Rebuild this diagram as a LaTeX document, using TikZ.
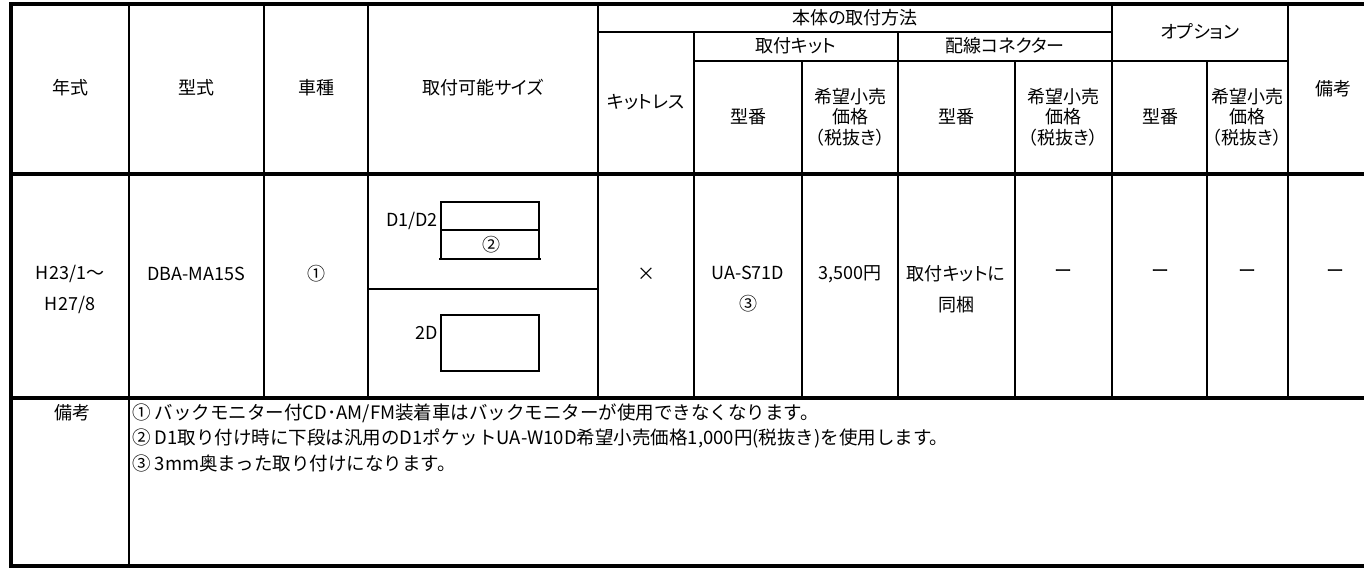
\documentclass[tikz,border=0pt]{standalone}
\usepackage{fontspec}
\setmainfont{Noto Sans CJK JP}
\newfontfamily\cellfont{Noto Sans CJK JP}[RawFeature={+palt}]
\tikzset{
	thinrule/.style={line width=1.6pt},
	thickrule/.style={line width=3.6pt},
	cell/.style={inner sep=0pt, align=center, font=\cellfont\fontsize{18}{20.5}\selectfont},
	tallcell/.style={cell, font=\cellfont\fontsize{18}{31}\selectfont},
	note/.style={inner sep=0pt, anchor=west, font=\fontsize{18.5}{21}\selectfont}
}

\begin{document}
\begin{tikzpicture}[x=1pt, y=-1pt]
			%%%%% START %%%%%
			
			\useasboundingbox (0, 0) rectangle (1364, 568);
			\clip (0, 0) rectangle (1364, 568);
			\fill[white] (0, 0) rectangle (1364, 568);
			
			\draw[thinrule] (129, 4) -- (129, 566);
			\draw[thinrule] (264, 4) -- (264, 398);
			\draw[thinrule] (368, 4) -- (368, 398);
			\draw[thinrule] (598, 4) -- (598, 398);
			\draw[thinrule] (694, 32) -- (694, 398);
			\draw[thinrule] (802, 61) -- (802, 398);
			\draw[thinrule] (898, 32) -- (898, 398);
			\draw[thinrule] (1015, 61) -- (1015, 398);
			\draw[thinrule] (1112, 4) -- (1112, 398);
			\draw[thinrule] (1207, 61) -- (1207, 398);
			\draw[thinrule] (1288, 4) -- (1288, 398);
			
			\draw[thinrule] (598, 32) -- (1112, 32);
			\draw[thinrule] (694, 61) -- (1288, 61);
			\draw[thinrule] (368, 289) -- (598, 289);
			
			\draw[thickrule] (11, 4) -- (1370, 4);
			\draw[thickrule] (11, 174) -- (1370, 174);
			\draw[thickrule] (11, 398) -- (1370, 398);
			\draw[thickrule] (11, 566) -- (1370, 566);
			\draw[thickrule] (11, 2) -- (11, 568);
			
			\node[cell] (year) at (70, 88) {年式};
			\node[cell] (model) at (196, 88) {型式};
			\node[cell] (car) at (316, 88) {車種};
			\node[cell] (size) at (483, 88) {取付可能サイズ};
			\node[cell] (kitless) at (646, 102) {キットレス};
			\node[cell] (body) at (855, 18) {本体の取付方法};
			\node[cell] (kit) at (796, 46) {取付キット};
			\node[cell] (wire) at (1005, 46) {配線コネクター};
			\node[cell] (option) at (1200, 32) {オプション};
			\node[cell] (kitno) at (748, 117) {型番};
			\node[cell] (kitprice) at (850, 117) {希望小売\\価格\\（税抜き）};
			\node[cell] (wireno) at (956, 117) {型番};
			\node[cell] (wireprice) at (1063, 117) {希望小売\\価格\\（税抜き）};
			\node[cell] (optno) at (1160, 117) {型番};
			\node[cell] (optprice) at (1247, 117) {希望小売\\価格\\（税抜き）};
			\node[cell] (remark) at (1333, 89) {備考};
			
			\node[tallcell] (period) at (70, 289) {H23/1〜\\H27/8};
			\node[cell] (code) at (196, 274) {DBA-MA15S};
			\node[cell] (carno) at (316, 274) {①};
			
			\draw[thinrule] (441, 259) -- (441, 202) -- (539, 202) -- (539, 259);
			\draw[thinrule] (441, 230) -- (539, 230);
			\draw[thinrule] (439, 259) -- (541, 259);
			\node[cell, anchor=east] (dindd) at (438, 221) {D1/D2};
			\node[cell] (pocket) at (491, 245) {②};
			\draw[thinrule] (441, 315) rectangle (539, 371);
			\node[cell, anchor=east] (twod) at (438, 333) {2D};
			
			\node[cell] (cross) at (646, 274) {×};
			\node[tallcell] (kitname) at (748, 289) {UA-S71D\\③};
			\node[cell] (yen) at (850, 274) {3,500円};
			\node[tallcell] (bundle) at (956, 289) {取付キットに\\同梱};
			\node[cell] (dasha) at (1063, 274) {ー};
			\node[cell] (dashb) at (1160, 274) {ー};
			\node[cell] (dashc) at (1247, 274) {ー};
			\node[cell] (dashd) at (1335, 274) {ー};
			
			\node[cell] (notes) at (72, 413) {備考};
			\node[note] (noteone) at (132, 413) {① バックモニター付CD･AM/FM装着車はバックモニターが使用できなくなります。};
			\node[note] (notetwo) at (132, 438) {② D1取り付け時に下段は汎用のD1ポケットUA-W10D希望小売価格1,000円(税抜き)を使用します。};
			\node[note] (notethree) at (132, 463) {③ 3mm奥まった取り付けになります。};
			
			%%%%% END %%%%%
		\end{tikzpicture}
\end{document}
